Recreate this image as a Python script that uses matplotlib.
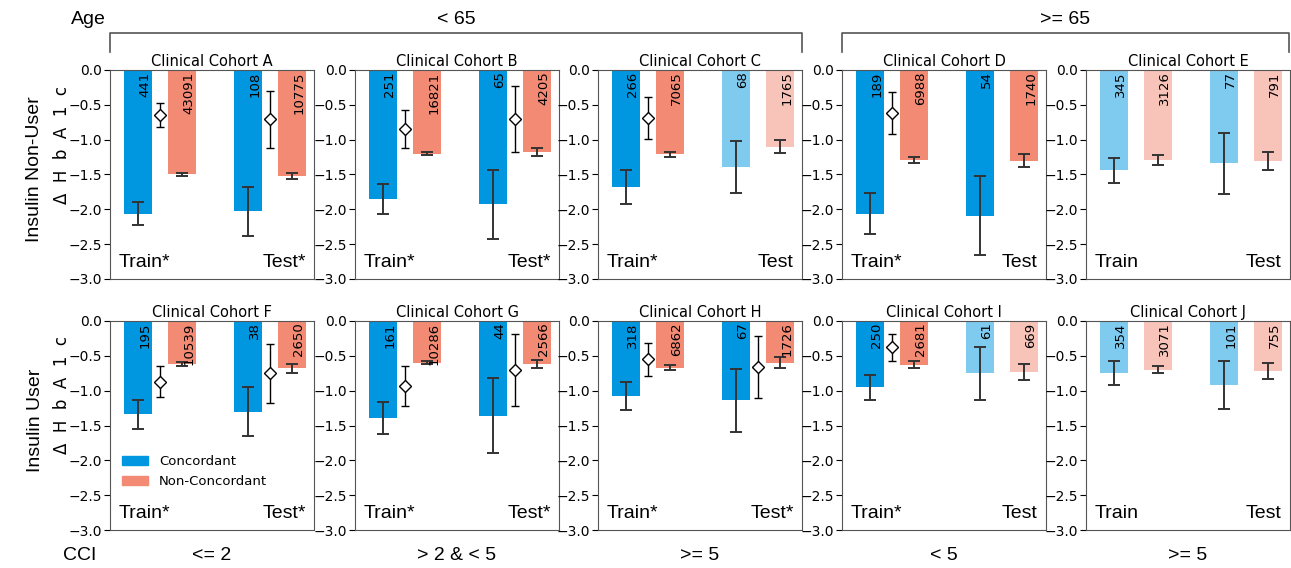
import numpy as np
import matplotlib
matplotlib.use('Agg')
from matplotlib import pyplot as plt
from matplotlib.patches import Patch

cohorts = ['A', 'B', 'C', 'D', 'E', 'F', 'G', 'H', 'I', 'J']

# [train, test] per cohort
conc_mean = [[-2.06, -2.03], [-1.85, -1.93], [-1.68, -1.39], [-2.06, -2.09], [-1.44, -1.34],
             [-1.34, -1.30], [-1.39, -1.36], [-1.08, -1.14], [-0.95, -0.75], [-0.75, -0.92]]
conc_err = [[0.17, 0.35], [0.21, 0.49], [0.24, 0.37], [0.29, 0.57], [0.18, 0.44],
            [0.21, 0.35], [0.23, 0.54], [0.20, 0.45], [0.18, 0.38], [0.17, 0.35]]
non_mean = [[-1.50, -1.52], [-1.20, -1.18], [-1.21, -1.10], [-1.29, -1.30], [-1.29, -1.31],
            [-0.62, -0.68], [-0.60, -0.62], [-0.67, -0.60], [-0.63, -0.73], [-0.70, -0.72]]
non_err = [[0.02, 0.04], [0.02, 0.06], [0.04, 0.09], [0.04, 0.09], [0.07, 0.13],
           [0.03, 0.06], [0.02, 0.06], [0.04, 0.08], [0.05, 0.11], [0.05, 0.11]]
diff_mean = [[-0.65, -0.71], [-0.85, -0.70], [-0.69, None], [-0.62, None], [None, None],
             [-0.87, -0.75], [-0.93, -0.70], [-0.55, -0.66], [-0.38, None], [None, None]]
diff_err = [[0.17, 0.41], [0.27, 0.47], [0.30, None], [0.30, None], [None, None],
            [0.22, 0.42], [0.29, 0.52], [0.24, 0.45], [0.20, None], [None, None]]
n_conc = [[441, 108], [251, 65], [266, 68], [189, 54], [345, 77],
          [195, 38], [161, 44], [318, 67], [250, 61], [354, 101]]
n_non = [[43091, 10775], [16821, 4205], [7065, 1765], [6988, 1740], [3126, 791],
         [10539, 2650], [10286, 2566], [6862, 1726], [2681, 669], [3071, 755]]
split_labels = [['Train*', 'Test*'], ['Train*', 'Test*'], ['Train*', 'Test'], ['Train*', 'Test'], ['Train', 'Test'],
                ['Train*', 'Test*'], ['Train*', 'Test*'], ['Train*', 'Test*'], ['Train*', 'Test'], ['Train', 'Test']]
faded = [[False, False], [False, False], [False, True], [False, False], [True, True],
         [False, False], [False, False], [False, False], [False, True], [True, True]]

age_groups = ['< 65', '>= 65']
cci_groups = ['<= 2', '> 2 & < 5', '>= 5', '< 5', '>= 5']
row_labels = ['Insulin Non-User', 'Insulin User']

BLUE = '#0096e0'
RED = '#f28a74'
SANS = 'Liberation Sans'

W, H = 1291, 568
fig = plt.figure(figsize=(W / 100, H / 100), dpi=100)

col_left = [110, 355, 598, 842, 1086]
col_w = 204
row_top = [70, 321]
row_h = 209

pos = np.array([0.0, 1.0, 2.5, 3.5])
bw = 0.64


def px(x, y):
    return x / W, 1 - y / H


axes = []
for i, name in enumerate(cohorts):
    r, c = divmod(i, 5)
    ax = fig.add_axes([col_left[c] / W, 1 - (row_top[r] + row_h) / H, col_w / W, row_h / H])
    axes.append(ax)
    for s in range(2):
        a = 0.5 if faded[i][s] else 1.0
        xc, xn = pos[2 * s], pos[2 * s + 1]
        ax.bar(xc, conc_mean[i][s], bw, color=BLUE, alpha=a)
        ax.bar(xn, non_mean[i][s], bw, color=RED, alpha=a)
        ax.errorbar([xc, xn], [conc_mean[i][s], non_mean[i][s]], yerr=[conc_err[i][s], non_err[i][s]],
                    fmt='none', ecolor='#333333', elinewidth=1.4, capsize=4, capthick=1.4)
        ax.text(xc + bw * 0.24, -0.02, str(n_conc[i][s]), rotation=90, ha='center', va='top', fontsize=9.5)
        ax.text(xn + bw * 0.24, -0.02, str(n_non[i][s]), rotation=90, ha='center', va='top', fontsize=9.5)
        if diff_mean[i][s] is not None:
            ax.errorbar((xc + xn) / 2, diff_mean[i][s], yerr=diff_err[i][s], fmt='D', mfc='white', mec='black',
                        ms=6, mew=1, ecolor='black', elinewidth=1, capsize=3)
    ax.text(0.04, 0.04, split_labels[i][0], transform=ax.transAxes, ha='left', va='bottom',
            fontsize=14, family=SANS)
    ax.text(0.96, 0.04, split_labels[i][1], transform=ax.transAxes, ha='right', va='bottom',
            fontsize=14, family=SANS)
    ax.set_xlim(-0.64, 4.0)
    ax.set_ylim(-3.0, 0.0)
    ax.set_yticks(np.arange(-3.0, 0.01, 0.5))
    ax.tick_params(axis='y', labelsize=10, length=4, pad=2)
    ax.set_xticks([])
    ax.set_title('Clinical Cohort %s' % name, fontsize=10.5, pad=3)
    for sp in ax.spines.values():
        sp.set_color('#555555')

axes[5].legend(handles=[Patch(color=BLUE, label='Concordant'), Patch(color=RED, label='Non-Concordant')],
               loc='center left', bbox_to_anchor=(0.0, 0.28), frameon=False, fontsize=9.5)

# row labels and y labels
for r in range(2):
    cy = row_top[r] + row_h / 2
    fig.text(*px(35, cy - 5), row_labels[r], rotation=90, ha='center', va='center', fontsize=14, family=SANS)
    fig.text(*px(62, cy - 30), 'Δ  H  b  A  1  c', rotation=90, ha='center', va='center', fontsize=12)

# age header with brackets
fig.text(*px(88, 20), 'Age', ha='center', va='center', fontsize=14, family=SANS)
spans = [(col_left[0], col_left[2] + col_w), (col_left[3], col_left[4] + col_w - 1)]
for label, (x0, x1) in zip(age_groups, spans):
    fig.text(*px((x0 + x1) / 2, 20), label, ha='center', va='center', fontsize=14, family=SANS)
    xs = [x0 / W, x0 / W, x1 / W, x1 / W]
    ys = [1 - 52 / H, 1 - 33 / H, 1 - 33 / H, 1 - 52 / H]
    fig.add_artist(plt.Line2D(xs, ys, color='#555555', lw=1.2, transform=fig.transFigure))

# CCI footer
fig.text(*px(80, 555), 'CCI', ha='center', va='center', fontsize=14, family=SANS)
for c, label in enumerate(cci_groups):
    fig.text(*px(col_left[c] + col_w / 2, 555), label, ha='center', va='center', fontsize=14, family=SANS)

fig.savefig('out.png', dpi=100)
